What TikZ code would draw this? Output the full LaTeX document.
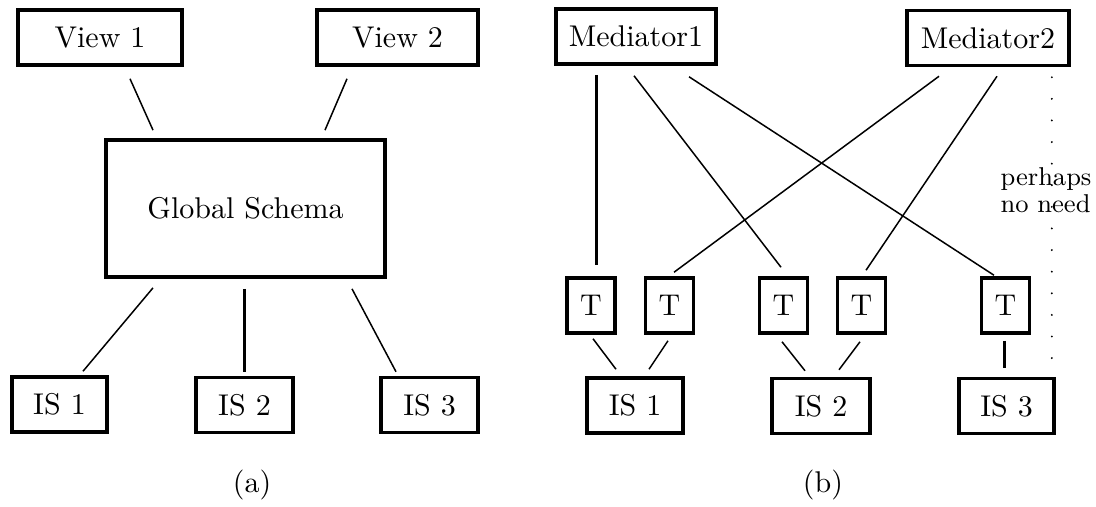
\documentclass[tikz,border=0pt]{standalone}
\usepackage{tikz}
\usetikzlibrary{calc}

\begin{document}
\begin{tikzpicture}[x=0.3333pt, y=-0.3333pt,
  box/.style={draw, line width=1.2pt, minimum height=18.3pt, inner sep=0pt},
  ln/.style={line width=0.5pt},
  thk/.style={line width=1pt},
  dots/.style={line width=0.7pt, line cap=round, dash pattern=on 0pt off 7.2pt}
]
\useasboundingbox (0,0) rectangle (1096,506);
% (a) global schema
\node (v1) [box, minimum width=54.7pt] at (100,37.5) {View 1};
\node (v2) [box, minimum width=53.7pt] at (397.5,37.5) {View 2};
\node (gs) [box, minimum width=93pt, minimum height=45.7pt] at (245.5,208.5) {Global Schema};
\node (ia1) [box, minimum width=31.7pt] at (59.5,404.5) {IS 1};
\node (ia2) [box, minimum width=32.3pt] at (244.5,405) {IS 2};
\node (ia3) [box, minimum width=32.3pt] at (429.5,405) {IS 3};
\node (capa) at (252,485) {(a)};
\draw[ln] ([shift={(30,12)}]v1.south) -- ([shift={(-92.5,-8)}]gs.north);
\draw[ln] ([shift={(-50.5,12)}]v2.south) -- ([shift={(79.5,-8)}]gs.north);
\draw[ln] ([shift={(-92.5,9)}]gs.south) -- ([shift={(23.5,-4)}]ia1.north);
\draw[thk] ([shift={(-1.5,10)}]gs.south) -- ([shift={(-0.5,-4)}]ia2.north);
\draw[ln] ([shift={(106.5,10)}]gs.south) -- ([shift={(-33.5,-4)}]ia3.north);
% (b) mediators
\node (m1) [box, minimum width=53.3pt] at (636,36.5) {Mediator1};
\node (m2) [box, minimum width=54pt] at (988,38) {Mediator2};
\node (t1) [box, minimum width=16pt] at (591,305.5) {T};
\node (t2) [box, minimum width=16pt] at (669.5,305.5) {T};
\node (t3) [box, minimum width=16pt] at (783.5,305.5) {T};
\node (t4) [box, minimum width=16pt] at (861.5,305.5) {T};
\node (t5) [box, minimum width=16pt] at (1005.5,305.5) {T};
\node (ib1) [box, minimum width=32pt] at (635,405.5) {IS 1};
\node (ib2) [box, minimum width=32.7pt] at (821,406) {IS 2};
\node (ib3) [box, minimum width=31.7pt] at (1006.5,406) {IS 3};
\node (capb) at (823,485) {(b)};
\node (note) [anchor=west, align=left, inner sep=0pt, font=\fontsize{8.6}{9}\selectfont] at (1000,190) {perhaps\\no need};
\draw[thk] ([shift={(-40,9)}]m1.south) -- ([shift={(5,-11)}]t1.north);
\draw[ln] ([shift={(-2,10)}]m1.south) -- ([shift={(-2.5,-9)}]t3.north);
\draw[ln] ([shift={(53,11)}]m1.south) -- ([shift={(-11.5,-1)}]t5.north);
\draw[ln] ([shift={(-49,9)}]m2.south) -- ([shift={(4.5,-4)}]t2.north);
\draw[ln] ([shift={(9,9)}]m2.south) -- ([shift={(4.5,-6)}]t4.north);
\draw[ln] ([shift={(2,4)}]t1.south) -- ([shift={(-19,-7)}]ib1.north);
\draw[ln] ([shift={(-1.5,6)}]t2.south) -- ([shift={(14,-7)}]ib1.north);
\draw[ln] ([shift={(-1.5,7)}]t3.south) -- ([shift={(-16,-6)}]ib2.north);
\draw[ln] ([shift={(-1.5,7)}]t4.south) -- ([shift={(18,-7)}]ib2.north);
\draw[thk] ([shift={(-1.5,6)}]t5.south) -- ([shift={(-2.5,-9)}]ib3.north);
\draw[dots] ([shift={(-19,10)}]m2.south east) -- ([shift={(-19,291)}]m2.south east);
\end{tikzpicture}
\end{document}
